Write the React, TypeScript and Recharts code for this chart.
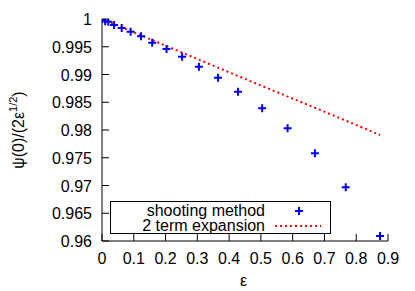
import React from 'react';
import {ComposedChart, Scatter, Line, XAxis, YAxis} from 'recharts';

const eps = [0, 0.01, 0.02, 0.038, 0.062, 0.09, 0.123, 0.158, 0.203, 0.252, 0.305, 0.365, 0.428, 0.504, 0.584, 0.67, 0.767, 0.875];
const shooting = [1.0, 0.9996, 0.9995, 0.9989, 0.9984, 0.9977, 0.9969, 0.9957, 0.9946, 0.9932, 0.9914, 0.9894, 0.9869, 0.9839, 0.9803, 0.9758, 0.9697, 0.9609];

const expEps = [0, 0.2, 0.45, 0.7, 0.875];
const expansion = [1.0, 0.9952, 0.9892, 0.9833, 0.9791];

const xTicks = [0, 0.1, 0.2, 0.3, 0.4, 0.5, 0.6, 0.7, 0.8, 0.9];
const yTicks = [0.96, 0.965, 0.97, 0.975, 0.98, 0.985, 0.99, 0.995, 1];

const shootData = eps.map((x, i) => ({x, y: shooting[i]}));
const expData = expEps.map((x, i) => ({x, y: expansion[i]}));

const FONT = '"Liberation Sans", Arial, sans-serif';
const FS = 16;
const TL = 7;

const fmt = (v: number) => String(Number(v.toFixed(3)));

const BottomTick = (p: any) => (
    <g>
        <line x1={p.x} y1={p.y} x2={p.x} y2={p.y - TL} stroke="#000"/>
        <text x={p.x} y={p.y + 23} textAnchor="middle" fontSize={FS} fontFamily={FONT} fill="#000">
            {fmt(p.payload.value)}
        </text>
    </g>
);
const TopTick = (p: any) => (
    <line x1={p.x} y1={p.y} x2={p.x} y2={p.y + TL} stroke="#000"/>
);
const LeftTick = (p: any) => (
    <g>
        <line x1={p.x} y1={p.y} x2={p.x + TL} y2={p.y} stroke="#000"/>
        <text x={p.x - 10} y={p.y + 6} textAnchor="end" fontSize={FS} fontFamily={FONT} fill="#000">
            {fmt(p.payload.value)}
        </text>
    </g>
);
const RightTick = (p: any) => (
    <line x1={p.x} y1={p.y} x2={p.x - TL} y2={p.y} stroke="#000"/>
);

const Plus = (p: any) => (
    <path d={`M${p.cx - 4},${p.cy}H${p.cx + 4}M${p.cx},${p.cy - 4}V${p.cy + 4}`} stroke="#0000ff" strokeWidth={2}/>
);

const LegendBox = () => (
    <svg width={222} height={34} style={{position: 'absolute', left: 110, top: 201}}>
        <rect x={0.5} y={0.5} width={220} height={32} fill="#fff" stroke="#000"/>
        <text x={155} y={15} textAnchor="end" fontSize={FS} fontFamily={FONT}>shooting method</text>
        <path d="M185,10H193M189,6V14" stroke="#0000ff" strokeWidth={2}/>
        <text x={155} y={30} textAnchor="end" fontSize={FS} fontFamily={FONT}>2 term expansion</text>
        <line x1={165} y1={25} x2={211} y2={25} stroke="#ff0000" strokeWidth={2} strokeDasharray="2 3"/>
    </svg>
);

const YLabel = () => (
    <svg width={40} height={291} style={{position: 'absolute', left: 0, top: 0}}>
        <text transform="translate(24,130) rotate(-90)" textAnchor="middle" fontSize={FS} fontFamily={FONT} fill="#000">
            ψ(0)/(2ε<tspan fontSize={11} dy={-7}>1/2</tspan><tspan dy={7}>)</tspan>
        </text>
    </svg>
);

export default function App() {
    return (
        <div style={{position: 'relative', width: 415, height: 291, background: '#fff'}}>
            <style>{'body{margin:0}'}</style>
            <ComposedChart width={415} height={291} margin={{top: 19, right: 27, bottom: 0, left: 0}}>
                <XAxis xAxisId="b" type="number" dataKey="x" domain={[0, 0.9]} ticks={xTicks}
                       orientation="bottom" height={50} tickSize={0} tickMargin={0} tickLine={false}
                       axisLine={{stroke: '#000'}} tick={BottomTick} allowDataOverflow/>
                <XAxis xAxisId="t" type="number" dataKey="x" domain={[0, 0.9]} ticks={xTicks}
                       orientation="top" height={0} tickSize={0} tickMargin={0} tickLine={false}
                       axisLine={{stroke: '#000'}} tick={TopTick} allowDataOverflow/>
                <YAxis yAxisId="l" type="number" dataKey="y" domain={[0.96, 1]} ticks={yTicks}
                       orientation="left" width={102} tickSize={0} tickMargin={0} tickLine={false}
                       axisLine={{stroke: '#000'}} tick={LeftTick} allowDataOverflow/>
                <YAxis yAxisId="r" type="number" dataKey="y" domain={[0.96, 1]} ticks={yTicks}
                       orientation="right" width={0} tickSize={0} tickMargin={0} tickLine={false}
                       axisLine={{stroke: '#000'}} tick={RightTick} allowDataOverflow/>
                <Line xAxisId="b" yAxisId="l" data={expData} dataKey="y" type="linear" stroke="#ff0000"
                      strokeWidth={2} strokeDasharray="2 3" dot={false} isAnimationActive={false}/>
                <Scatter xAxisId="b" yAxisId="l" data={shootData} dataKey="y" shape={Plus} isAnimationActive={false}/>
            </ComposedChart>
            <div style={{position: 'absolute', left: 240, top: 272, fontSize: FS, fontFamily: FONT, lineHeight: '18px'}}>ε</div>
            <YLabel/>
            <LegendBox/>
        </div>
    );
}
